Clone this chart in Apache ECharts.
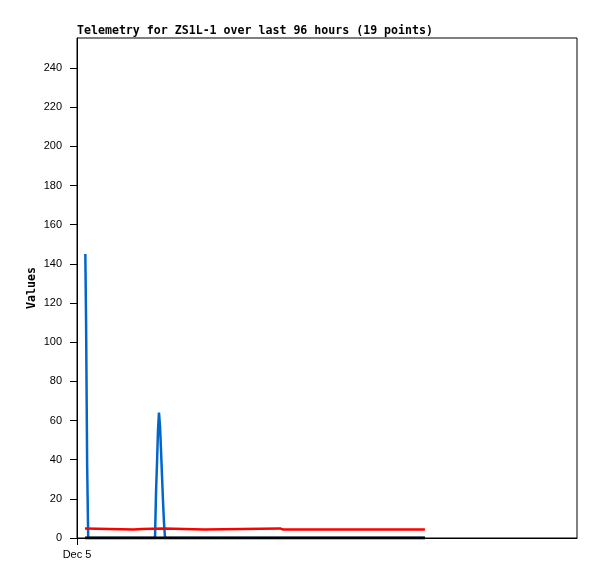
<!DOCTYPE html>
<html>
<head>
<meta charset="utf-8">
<script src="https://cdn.jsdelivr.net/npm/echarts@6/dist/echarts.min.js"></script>
<style>html,body{margin:0;padding:0;background:#fff}#c{width:597px;height:579px}</style>
</head>
<body>
<div id="c"></div>
<script>
// hours since Dec 5 00:00 and values
const titleText = 'Telemetry for ZS1L-1 over last 96 hours (19 points)';
const yTicks = [0, 20, 40, 60, 80, 100, 120, 140, 160, 180, 200, 220, 240];
const xTickLabels = ['Dec 5'];
const xTicks = [0];

const blueX = [1.6, 1.75, 1.95, 2.15, 14.98, 15.17, 15.36, 15.55, 15.74, 15.94, 16.13, 16.32, 16.51, 16.70, 16.90, 66.8];
const blueY = [145, 108, 37, 0, 0, 23, 38, 55, 64, 57, 45, 32, 19, 8, 0, 0];

const redX = [1.54, 1.92, 10.9, 11.1, 12.5, 12.7, 16.7, 16.9, 24.4, 24.6, 39.0, 39.2, 39.6, 66.8];
const redY = [4.9, 4.3, 4.3, 4.6, 4.6, 4.9, 4.9, 4.3, 4.3, 4.9, 4.9, 4.6, 4.3, 4.3];

const blackX = [1.54, 66.8];
const blackY = [0, 0];

const zip = (xs, ys) => xs.map((x, i) => [x, ys[i]]);
const mono = 'DejaVu Sans Mono';

const chart = echarts.init(document.getElementById('c'), null, {renderer: 'canvas'});
chart.setOption({
  animation: false,
  backgroundColor: '#fff',
  title: {
    text: titleText, left: 77, top: 25, padding: 0,
    textStyle: {fontFamily: mono, fontWeight: 'bold', fontSize: 11.6, color: '#000'}
  },
  grid: {left: 77, top: 38, width: 500, height: 500, show: true, borderColor: '#000', borderWidth: 1, backgroundColor: 'transparent'},
  xAxis: {
    type: 'value', min: 0, max: 96,
    axisLine: {show: true, onZero: false, lineStyle: {color: '#000', width: 1}},
    axisTick: {show: true, length: 7, customValues: xTicks, lineStyle: {color: '#000'}},
    axisLabel: {
      customValues: xTicks, margin: 11,
      formatter: v => { const i = xTicks.indexOf(v); return i >= 0 ? xTickLabels[i] : ''; },
      fontFamily: 'Liberation Sans', fontSize: 11, color: '#000'
    },
    splitLine: {show: false}
  },
  yAxis: {
    type: 'value', min: 0, max: 255.3,
    name: 'Values', nameLocation: 'middle', nameGap: 39, nameRotate: 90, nameMoveOverlap: false,
    nameTextStyle: {fontFamily: mono, fontWeight: 'bold', fontSize: 11.6, color: '#000'},
    axisLine: {show: true, lineStyle: {color: '#000', width: 1}},
    axisTick: {show: true, length: 7, customValues: yTicks, lineStyle: {color: '#000'}},
    axisLabel: {customValues: yTicks, margin: 15, fontFamily: 'Liberation Sans', fontSize: 11, color: '#000'},
    splitLine: {show: false}
  },
  series: [
    {type: 'line', data: zip(blueX, blueY), showSymbol: false, lineStyle: {color: '#0066cc', width: 2.5}, z: 2},
    {type: 'line', data: zip(redX, redY), showSymbol: false, lineStyle: {color: '#ff0000', width: 2.5}, z: 3},
    {type: 'line', data: zip(blackX, blackY), showSymbol: false, lineStyle: {color: '#000000', width: 3}, z: 4}
  ]
});
</script>
</body>
</html>
